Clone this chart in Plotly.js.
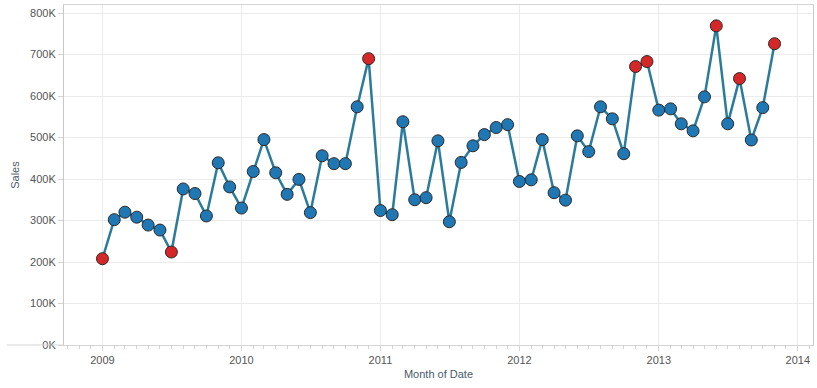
<!DOCTYPE html>
<html>
<head>
<meta charset="utf-8">
<script src="https://cdn.plot.ly/plotly-3.0.1.min.js"></script>
<style>html,body{margin:0;padding:0;background:#fff;}#chart{width:817px;height:388px;}</style>
</head>
<body>
<div id="chart"></div>
<script>
// Monthly sales, Jan 2009 - Nov 2013
const months = [
  '2009-01-01','2009-02-01','2009-03-01','2009-04-01','2009-05-01','2009-06-01','2009-07-01','2009-08-01','2009-09-01','2009-10-01','2009-11-01','2009-12-01',
  '2010-01-01','2010-02-01','2010-03-01','2010-04-01','2010-05-01','2010-06-01','2010-07-01','2010-08-01','2010-09-01','2010-10-01','2010-11-01','2010-12-01',
  '2011-01-01','2011-02-01','2011-03-01','2011-04-01','2011-05-01','2011-06-01','2011-07-01','2011-08-01','2011-09-01','2011-10-01','2011-11-01','2011-12-01',
  '2012-01-01','2012-02-01','2012-03-01','2012-04-01','2012-05-01','2012-06-01','2012-07-01','2012-08-01','2012-09-01','2012-10-01','2012-11-01','2012-12-01',
  '2013-01-01','2013-02-01','2013-03-01','2013-04-01','2013-05-01','2013-06-01','2013-07-01','2013-08-01','2013-09-01','2013-10-01','2013-11-01'
];
const sales = [
  208000,302000,320000,308000,289000,277000,224000,376000,365000,311000,439000,381000,
  330000,418000,495000,415000,363000,399000,319000,456000,437000,437000,574000,690000,
  324000,314000,538000,350000,355000,492000,297000,440000,480000,507000,524000,531000,
  394000,398000,495000,367000,349000,504000,466000,574000,545000,461000,671000,683000,
  566000,569000,533000,516000,598000,769000,533000,642000,494000,572000,726000
];
// highlighted (red) months
const highlighted = ['2009-01-01','2009-07-01','2010-12-01','2012-11-01','2012-12-01','2013-06-01','2013-08-01','2013-11-01'];
const yTickVals = [0,100000,200000,300000,400000,500000,600000,700000,800000];
const yTickText = ['0K','100K','200K','300K','400K','500K','600K','700K','800K'];
const xTickVals = ['2009-01-01','2010-01-01','2011-01-01','2012-01-01','2013-01-01','2014-01-01'];
const xTickText = ['2009','2010','2011','2012','2013','2014'];

const BLUE = '#1f77b4', RED = '#d62728';
const markerColors = months.map(m => highlighted.includes(m) ? RED : BLUE);

const trace = {
  x: months, y: sales, type: 'scatter', mode: 'lines+markers',
  line: {color: '#2b7b9b', width: 2.5},
  marker: {size: 12, color: markerColors, line: {color: '#2a2a2a', width: 1}},
  hoverinfo: 'x+y'
};

const font = {family: 'Liberation Sans, Arial, sans-serif', size: 11, color: '#555'};
const layout = {
  width: 817, height: 388,
  margin: {l: 64, r: 4, t: 5, b: 43},
  paper_bgcolor: '#fff', plot_bgcolor: '#fff',
  font: font,
  showlegend: false,
  xaxis: {
    type: 'date',
    range: ['2008-09-22', '2014-02-10'],
    tickvals: xTickVals, ticktext: xTickText,
    showgrid: true, gridcolor: '#ebebeb', gridwidth: 1,
    zeroline: false,
    showline: true, linecolor: '#d4d4d4', linewidth: 1, mirror: true,
    ticks: 'outside', ticklen: 5, tickcolor: '#d4d4d4',
    minor: {ticks: 'outside', ticklen: 3, tickcolor: '#d4d4d4', dtick: 'M1', tick0: '2009-01-01', showgrid: false},
    tickfont: {family: 'Liberation Sans, Arial, sans-serif', size: 11, color: '#555'},
    title: {text: 'Month of Date', font: {family: 'Liberation Sans, Arial, sans-serif', size: 11, color: '#4a5a6a'}, standoff: 5}
  },
  yaxis: {
    range: [0, 819300],
    tickvals: yTickVals, ticktext: yTickText,
    showgrid: true, gridcolor: '#ebebeb', gridwidth: 1,
    zeroline: false,
    showline: true, linecolor: '#c8c8c8', linewidth: 1, mirror: true,
    ticks: 'outside', ticklen: 5, tickcolor: '#d4d4d4',
    tickfont: {family: 'Liberation Sans, Arial, sans-serif', size: 11, color: '#555'},
    title: {text: 'Sales', font: {family: 'Liberation Sans, Arial, sans-serif', size: 11, color: '#4a5a6a'}, standoff: 8}
  },
  shapes: [
    {type: 'line', xref: 'paper', yref: 'paper', x0: -0.0765, x1: 0, y0: 0, y1: 0, line: {color: '#d4d4d4', width: 1}}
  ]
};

Plotly.newPlot('chart', [trace], layout, {displayModeBar: false, staticPlot: true});
</script>
</body>
</html>
